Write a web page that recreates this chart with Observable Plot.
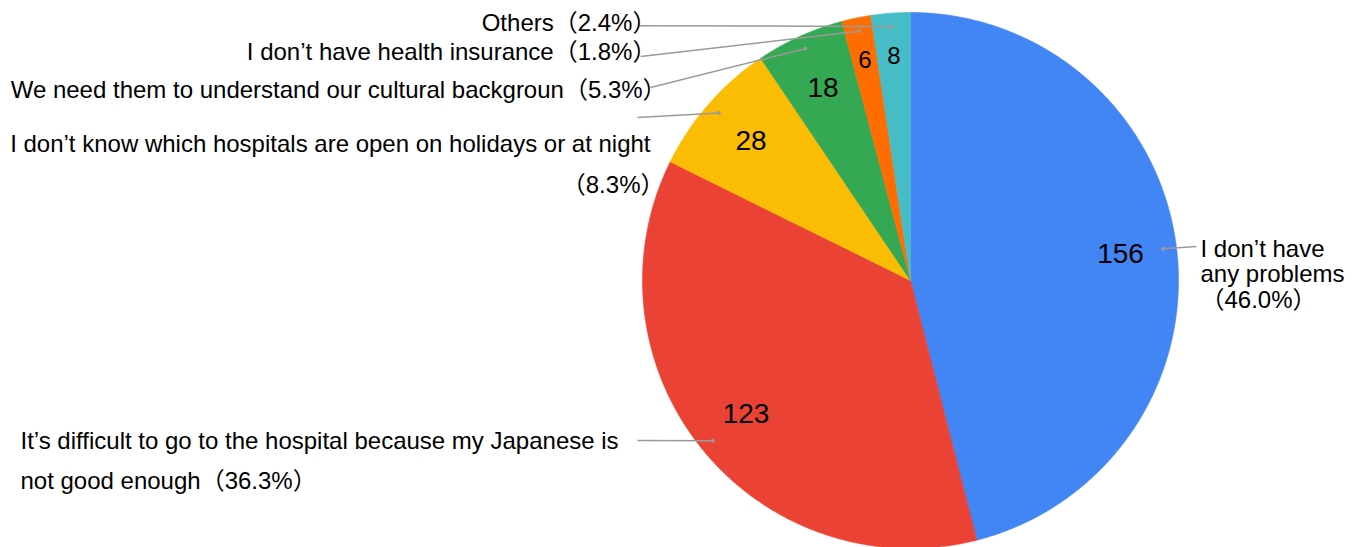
<!DOCTYPE html>
<html>
<head>
<meta charset="utf-8">
<script src="https://cdn.jsdelivr.net/npm/d3@7"></script>
<script src="https://cdn.jsdelivr.net/npm/@observablehq/plot@0.6"></script>
<style>
  html, body { margin: 0; padding: 0; background: #fff; }
  svg { display: block; }
</style>
</head>
<body>
<div id="chart"></div>
<script>
// ---- data ----
const categories = [
  "I don't have any problems",
  "It's difficult to go to the hospital because my Japanese is not good enough",
  "I don't know which hospitals are open on holidays or at night",
  "We need them to understand our cultural backgroun",
  "I don't have health insurance",
  "Others"
];
const values = [156, 123, 28, 18, 6, 8];
const percents = ["46.0%", "36.3%", "8.3%", "5.3%", "1.8%", "2.4%"];
const labelTexts = [
  "I don\u2019t have\nany problems\n\uff0846.0%\uff09",
  "It\u2019s difficult to go to the hospital because my Japanese is\nnot good enough\uff0836.3%\uff09",
  "I don\u2019t know which hospitals are open on holidays or at night",
  "We need them to understand our cultural backgroun\uff085.3%\uff09",
  "I don\u2019t have health insurance\uff081.8%\uff09",
  "Others\uff082.4%\uff09"
];
const colors = ["#4285F4", "#EA4335", "#FBBC04", "#34A853", "#FF6D01", "#46BDC6"];

// ---- layout (unit-circle coordinates: pie radius = 1, centre = 0,0) ----
const W = 1365, H = 547;
const R = 268, CX = 910, CY = 280;
const xDomain = [-CX / R, (W - CX) / R];
const yDomain = [-(H - CY) / R, CY / R];
// leader line end points
const leaderEnds = [
  [1.067, 0.127], [-1.019, -0.597], [-1.019, 0.608],
  [-0.970, 0.720], [-1.007, 0.836], [-1.015, 0.951]
];
// text anchors
const labelLayout = [
  {x: 1.082, y: 0.024, anchor: "start", lh: 1.06},
  {x: -3.321, y: -0.654, anchor: "start", lh: 1.67},
  {x: -0.970, y: 0.515, anchor: "end", lh: 1.2},
  {x: -0.910, y: 0.716, anchor: "end", lh: 1.2},
  {x: -0.948, y: 0.858, anchor: "end", lh: 1.2},
  {x: -0.948, y: 0.966, anchor: "end", lh: 1.2}
];
const extraPct = {x: -0.918, y: 0.354}; // "(8.3%)" line under the yellow label

// ---- geometry ----
const total = d3.sum(values);
let cum = 0;
const slices = values.map((v, i) => {
  const a0 = cum / total * 2 * Math.PI;
  cum += v;
  const a1 = cum / total * 2 * Math.PI;
  return {i, key: categories[i], value: v, a0, a1, mid: (a0 + a1) / 2, frac: v / total};
});
const polyPts = [];
for (const s of slices) {
  const n = Math.max(2, Math.ceil((s.a1 - s.a0) / (Math.PI / 360)));
  polyPts.push({key: s.key, x: 0, y: 0});
  for (let k = 0; k <= n; k++) {
    const a = s.a0 + (s.a1 - s.a0) * k / n;
    polyPts.push({key: s.key, x: Math.sin(a), y: Math.cos(a)});
  }
  polyPts.push({key: s.key, x: 0, y: 0});
}
const valueLabels = slices.map(s => {
  const r = s.frac < 0.03 ? 0.84 : 0.79;
  return {x: r * Math.sin(s.mid), y: r * Math.cos(s.mid), text: String(s.value), size: s.frac < 0.03 ? 24 : 28};
});
const leaders = slices.map((s, i) => ({
  x1: 0.95 * Math.sin(s.mid), y1: 0.95 * Math.cos(s.mid),
  x2: leaderEnds[i][0], y2: leaderEnds[i][1]
}));
const texts = slices.map((s, i) => ({...labelLayout[i], text: labelTexts[i]}));

const font = "'Liberation Sans', Arial, 'Noto Sans CJK JP', sans-serif";

const chart = Plot.plot({
  width: W, height: H,
  margin: 0,
  style: {background: "#fff", overflow: "visible"},
  x: {domain: xDomain, axis: null},
  y: {domain: yDomain, axis: null},
  color: {domain: categories, range: colors},
  marks: [
    Plot.line(polyPts, {x: "x", y: "y", z: "key", fill: "key", stroke: "key", strokeWidth: 0.6, curve: "linear"}),
    Plot.link(leaders, {x1: "x1", y1: "y1", x2: "x2", y2: "y2", stroke: "#9a9a9a", strokeWidth: 1.5}),
    Plot.dot(leaders, {x: "x1", y: "y1", r: 2, fill: "#9a9a9a", stroke: null}),
    Plot.text(valueLabels, {x: "x", y: "y", text: "text", fontSize: d => d.size, fill: "#000", fontFamily: font}),
    ...texts.map(t => Plot.text([t], {
      x: "x", y: "y", text: "text", textAnchor: t.anchor, lineAnchor: "middle",
      lineHeight: t.lh, fontSize: 24, fill: "#000", fontFamily: font
    })),
    Plot.text([{...extraPct, text: "\uff08" + percents[2] + "\uff09"}], {
      x: "x", y: "y", text: "text", textAnchor: "end", fontSize: 24, fill: "#000", fontFamily: font
    })
  ]
});
document.getElementById("chart").appendChild(chart);
</script>
</body>
</html>
